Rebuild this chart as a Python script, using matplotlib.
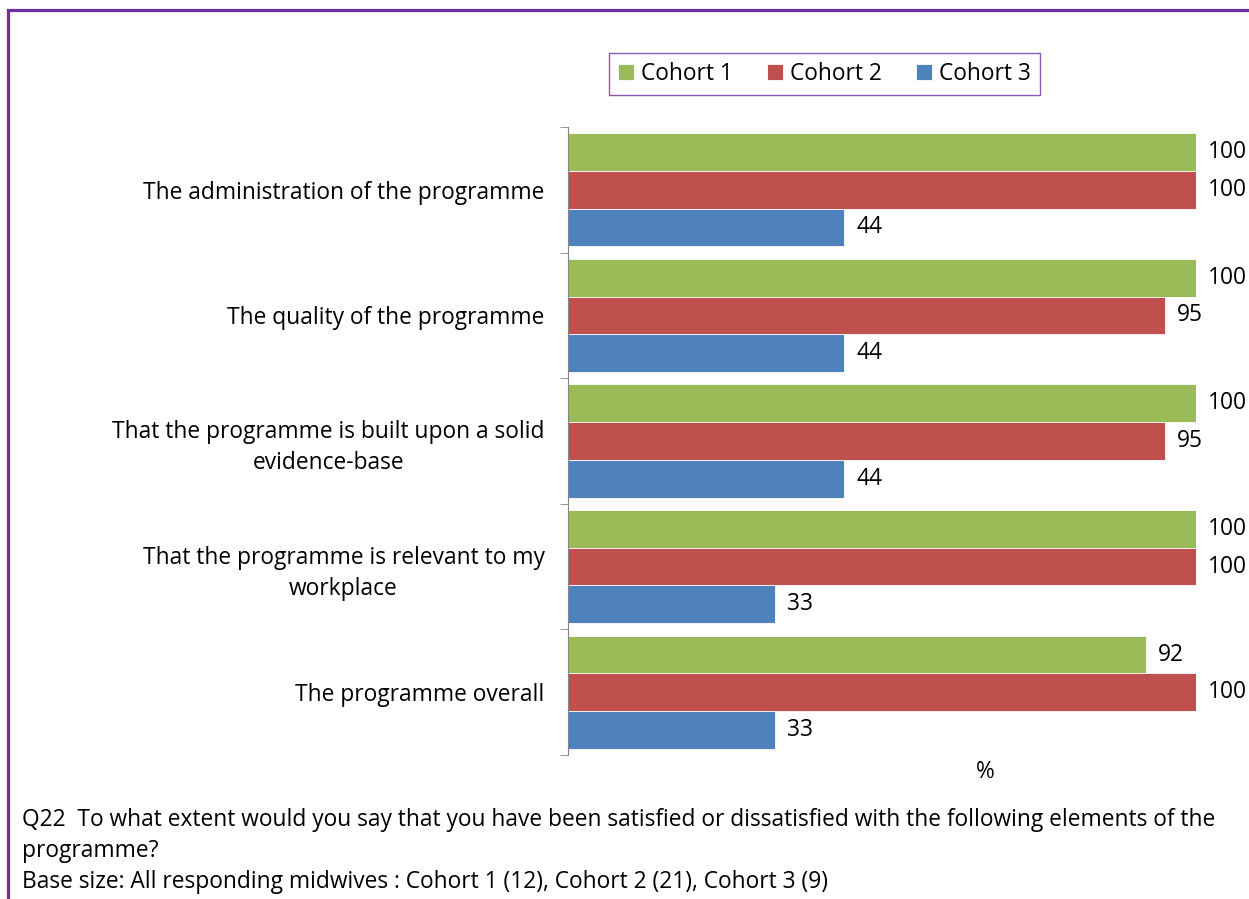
import matplotlib.pyplot as plt
import matplotlib.patches as mpatches
import numpy as np

categories = [
    "The administration of the programme",
    "The quality of the programme",
    "That the programme is built upon a solid\nevidence-base",
    "That the programme is relevant to my\nworkplace",
    "The programme overall",
]
cohort1 = [100, 100, 100, 100, 92]
cohort2 = [100, 95, 95, 100, 100]
cohort3 = [44, 44, 44, 33, 33]
series_names = ["Cohort 1", "Cohort 2", "Cohort 3"]
colors = ["#9BBB59", "#C0504D", "#4F81BD"]

note = ("Q22  To what extent would you say that you have been satisfied or dissatisfied with the following elements of the\n"
        "programme?\n"
        "Base size: All responding midwives : Cohort 1 (12), Cohort 2 (21), Cohort 3 (9)")

plt.rcParams["font.family"] = ["Open Sans", "DejaVu Sans"]
FS = 16.4
PURPLE = "#7030A0"

fig = plt.figure(figsize=(12.49, 8.99), dpi=100)
ax = fig.add_axes([568 / 1249, 1 - 755 / 899, (1196 - 568) / 1249, (755 - 127) / 899])

y = np.arange(len(categories))
h = 0.3
for i, (vals, name, c) in enumerate(zip([cohort1, cohort2, cohort3], series_names, colors)):
    pos = y + (i - 1) * h
    ax.barh(pos, vals, height=h, color=c, edgecolor="white", linewidth=0.6, label=name)
    for p, v in zip(pos, vals):
        ax.text(v + 1.9, p, str(v), va="center", ha="left", fontsize=FS)

ax.set_xlim(0, 100)
ax.set_ylim(len(categories) - 0.5, -0.5)
ax.set_yticks(y)
ax.set_yticklabels(categories, fontsize=FS, ha="right", multialignment="center",
                   linespacing=1.4)
ax.tick_params(axis="y", which="major", length=0, pad=17)
ax.set_yticks(np.arange(len(categories) + 1) - 0.5, minor=True)
ax.tick_params(axis="y", which="minor", length=6, color="#868686", direction="out")
ax.set_xticks([])
for s in ["top", "right", "bottom"]:
    ax.spines[s].set_visible(False)
ax.spines["left"].set_color("#868686")

fig.text(985 / 1249, 1 - 772 / 899, "%", ha="center", va="center", fontsize=FS)

handles, labels = ax.get_legend_handles_labels()
leg = fig.legend(handles, labels, loc="center", bbox_to_anchor=(824.5 / 1249, 1 - 74 / 899),
                 ncol=3, fontsize=FS, frameon=True, fancybox=False, handlelength=0.7,
                 handleheight=0.7, handletextpad=0.3, columnspacing=1.5, borderpad=0.4)
leg.get_frame().set_edgecolor(PURPLE)
leg.get_frame().set_linewidth(1.0)

fig.text(22 / 1249, 1 - 808 / 899, note, ha="left", va="top", fontsize=FS,
         linespacing=1.38)

border = mpatches.Rectangle((7.5 / 1249, -0.5), 2, 1.5 - 9.5 / 899, transform=fig.transFigure,
                            fill=False, edgecolor=PURPLE, linewidth=2.3, clip_on=False)
fig.add_artist(border)

fig.savefig("out.png", dpi=100)
